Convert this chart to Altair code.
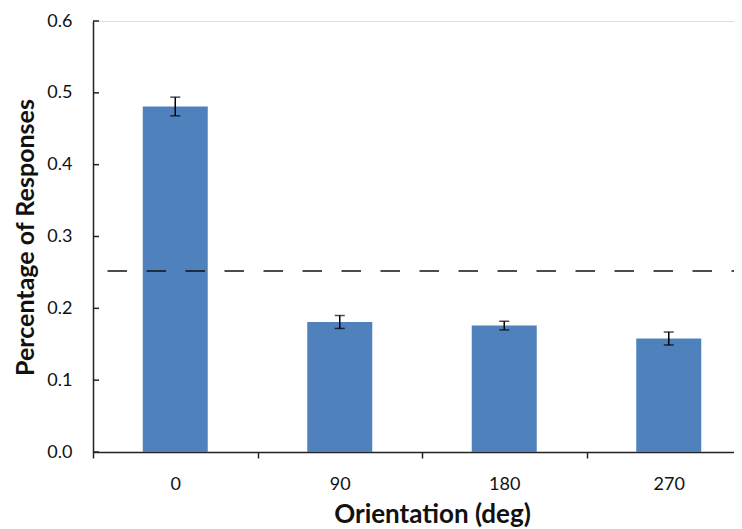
import altair as alt
import pandas as pd

orientations = ["0", "90", "180", "270"]
values = [0.481, 0.181, 0.176, 0.158]
errors = [0.013, 0.009, 0.006, 0.009]
chance_level = 0.252
y_ticks = [0.0, 0.1, 0.2, 0.3, 0.4, 0.5, 0.6]

df = pd.DataFrame({
    "orientation": orientations,
    "value": values,
    "lo": [v - e for v, e in zip(values, errors)],
    "hi": [v + e for v, e in zip(values, errors)],
})
ticks_df = pd.DataFrame({"t": y_ticks})
chance_df = pd.DataFrame({"c": [chance_level]})

FONT = "Lato"
xscale = alt.Scale(domain=orientations, paddingInner=0, paddingOuter=0)
yscale = alt.Scale(domain=[0, 0.6], nice=False)

x_enc = alt.X("orientation:N", scale=xscale, sort=orientations,
              axis=alt.Axis(title="Orientation (deg)", labelAngle=0, tickBand="extent",
                            tickSize=6, tickWidth=1.5, tickColor="#222",
                            domainColor="#222", domainWidth=1.5,
                            labelFont=FONT, labelFontSize=18, labelColor="#111",
                            labelPadding=17,
                            titleFont=FONT, titleFontSize=26, titleFontWeight="bold",
                            titleColor="#111", titleX=339, titleY=62,
                            titleBaseline="middle", titleAlign="center"))
y_enc = alt.Y("value:Q", scale=yscale,
              axis=alt.Axis(title="Percentage of Responses", values=y_ticks, format=".1f",
                            grid=False, ticks=False, tickSize=0,
                            domainColor="#222", domainWidth=1.5,
                            labelFont=FONT, labelFontSize=18, labelColor="#111",
                            labelPadding=21,
                            titleFont=FONT, titleFontSize=25, titleFontWeight="bold",
                            titleColor="#111", titleX=-68, titleY=216,
                            titleBaseline="middle", titleAlign="center", titleAngle=-90))

bars = alt.Chart(df).mark_bar(width=65, color="#4F81BD").encode(x=x_enc, y=y_enc)

err = alt.Chart(df).mark_rule(color="black", strokeWidth=1.5).encode(
    x=alt.X("orientation:N", scale=xscale, sort=orientations),
    y=alt.Y("lo:Q", scale=yscale), y2="hi:Q")
cap_hi = alt.Chart(df).mark_tick(color="black", size=10, thickness=1.5).encode(
    x=alt.X("orientation:N", scale=xscale, sort=orientations),
    y=alt.Y("hi:Q", scale=yscale))
cap_lo = alt.Chart(df).mark_tick(color="black", size=10, thickness=1.5).encode(
    x=alt.X("orientation:N", scale=xscale, sort=orientations),
    y=alt.Y("lo:Q", scale=yscale))

chance = alt.Chart(chance_df).mark_rule(color="#111", strokeWidth=1.5,
                                        strokeDash=[19.5, 19.5]).encode(
    y=alt.Y("c:Q", scale=yscale))

yticks = alt.Chart(ticks_df).mark_rule(color="#222", strokeWidth=1.5).encode(
    y=alt.Y("t:Q", scale=yscale), x=alt.value(0), x2=alt.value(6))

chart = alt.layer(bars, chance, err, cap_hi, cap_lo, yticks).properties(
    width=658, height=431,
    autosize=alt.AutoSizeParams(type="none"),
    padding={"left": 85, "top": 13, "right": -17, "bottom": 77},
).configure_view(stroke=None).configure(background="white")

chart.save("out.html", embed_options={"renderer": "svg", "actions": False})
